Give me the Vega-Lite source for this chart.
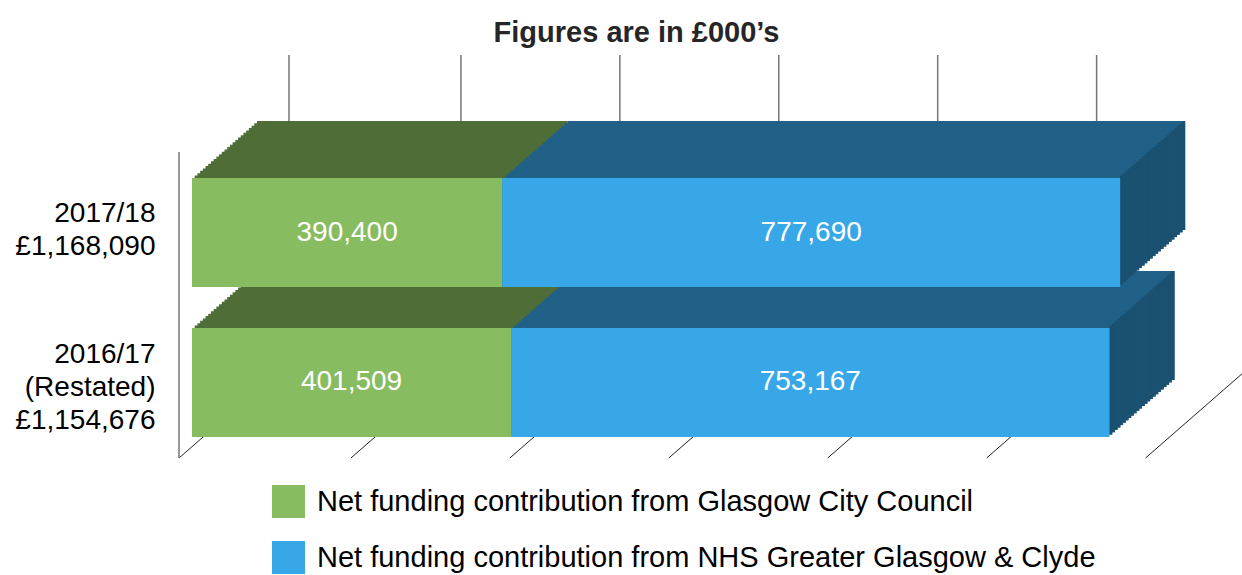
{
  "$schema": "https://vega.github.io/schema/vega-lite/v6.json",
  "width": 1033,
  "height": 382,
  "autosize": {"type": "none"},
  "padding": {"left": 192, "top": 55, "right": 17, "bottom": 138},
  "title": {"text": "Figures are in £000’s", "fontSize": 29, "fontWeight": "bold", "font": "Liberation Sans", "color": "#262626", "anchor": "middle", "frame": "group", "dx": -72, "offset": -17, "baseline": "alphabetic"},
  "config": {
    "font": "Liberation Sans",
    "view": {"stroke": null},
    "axisX": {"disable": true},
    "legend": {"orient": "none", "legendX": 80, "legendY": 430, "title": null, "symbolType": "square", "symbolSize": 1089, "symbolStrokeWidth": 0, "labelFontSize": 29, "labelFont": "Liberation Sans", "labelColor": "#000000", "labelOffset": 12, "rowPadding": 23, "labelLimit": 1000, "padding": 0}
  },
  "layer": [
    {
      "data": {"values": [{"t": 200000}, {"t": 400000}, {"t": 600000}, {"t": 800000}, {"t": 1000000}, {"t": 1200000}]},
      "mark": {"type": "rule", "color": "#767676", "strokeWidth": 1.5, "xOffset": 110},
      "encoding": {"x": {"field": "t", "type": "quantitative", "scale": {"domain": [0, 1300000], "nice": false, "zero": true}, "axis": null}}
    },
    {
      "data": {"values": [{"t": 0}]},
      "mark": {"type": "rule", "color": "#767676", "strokeWidth": 1.5, "xOffset": 97},
      "encoding": {"x": {"field": "t", "type": "quantitative", "axis": null}}
    },
    {
      "data": {"values": [{"t": 200000}, {"t": 400000}, {"t": 600000}, {"t": 800000}, {"t": 1000000}, {"t": 1200000}]},
      "mark": {"type": "rule", "color": "#222222", "strokeWidth": 1, "yOffset": 21, "y2Offset": -75, "x2Offset": 110},
      "encoding": {"x": {"field": "t", "type": "quantitative", "axis": null}, "x2": {"field": "t"}, "y": {"value": "height"}, "y2": {"value": "height"}}
    },
    {
      "data": {"values": [{"t": 0}]},
      "mark": {"type": "rule", "color": "#222222", "strokeWidth": 1, "xOffset": -13, "x2Offset": 97, "yOffset": 21, "y2Offset": -75},
      "encoding": {"x": {"field": "t", "type": "quantitative", "axis": null}, "x2": {"field": "t"}, "y": {"value": "height"}, "y2": {"value": "height"}}
    },
    {
      "data": {"values": [{"t": 0}]},
      "mark": {"type": "rule", "color": "#767676", "strokeWidth": 1.5, "xOffset": -13, "yOffset": 21, "y2Offset": -285},
      "encoding": {"x": {"field": "t", "type": "quantitative", "axis": null}, "y": {"value": "height"}, "y2": {"value": "height"}}
    },
    {
      "data": {"values": [
        {"year": "2017/18|£1,168,090", "segment": "Net funding contribution from Glasgow City Council", "value": 390400},
        {"year": "2017/18|£1,168,090", "segment": "Net funding contribution from NHS Greater Glasgow & Clyde", "value": 777690},
        {"year": "2016/17|(Restated)|£1,154,676", "segment": "Net funding contribution from Glasgow City Council", "value": 401509},
        {"year": "2016/17|(Restated)|£1,154,676", "segment": "Net funding contribution from NHS Greater Glasgow & Clyde", "value": 753167}
      ]},
      "transform": [
        {"stack": "value", "groupby": ["year"], "sort": [{"field": "segment", "order": "ascending"}], "as": ["x0", "x1"]},
        {"calculate": "(datum.x0 + datum.x1) / 2", "as": "mid"}
      ],
      "encoding": {
        "y": {"field": "year", "type": "nominal", "title": null,
          "scale": {"domain": ["2017/18|£1,168,090", "2016/17|(Restated)|£1,154,676"], "paddingInner": 0.2733, "paddingOuter": 0.41, "align": 1},
          "axis": {"labelExpr": "split(datum.label, '|')", "labelFontSize": 28, "labelFont": "Liberation Sans", "labelColor": "#000000", "labelLineHeight": 33, "labelPadding": 37, "domain": false, "ticks": false, "tickSize": 0, "labelLimit": 400, "grid": false,
            "labelOffset": {"condition": {"test": "datum.value == '2016/17|(Restated)|£1,154,676'", "value": -27}, "value": -19}}}
      },
      "layer": [
        {
          "encoding": {
            "x": {"field": "x0", "type": "quantitative", "axis": null},
            "x2": {"field": "x1"},
            "fill": {"field": "segment", "type": "nominal", "scale": {"range": ["#4F6E37", "#216087"]}, "legend": null}
          },
          "layer": [
            {"mark": {"type": "bar", "xOffset": 65, "x2Offset": 65, "yOffset": -57, "y2Offset": -57}},
            {"mark": {"type": "bar", "xOffset": 62.29, "x2Offset": 62.29, "yOffset": -54.63, "y2Offset": -54.63}},
            {"mark": {"type": "bar", "xOffset": 59.58, "x2Offset": 59.58, "yOffset": -52.25, "y2Offset": -52.25}},
            {"mark": {"type": "bar", "xOffset": 56.88, "x2Offset": 56.88, "yOffset": -49.88, "y2Offset": -49.88}},
            {"mark": {"type": "bar", "xOffset": 54.17, "x2Offset": 54.17, "yOffset": -47.5, "y2Offset": -47.5}},
            {"mark": {"type": "bar", "xOffset": 51.46, "x2Offset": 51.46, "yOffset": -45.13, "y2Offset": -45.13}},
            {"mark": {"type": "bar", "xOffset": 48.75, "x2Offset": 48.75, "yOffset": -42.75, "y2Offset": -42.75}},
            {"mark": {"type": "bar", "xOffset": 46.04, "x2Offset": 46.04, "yOffset": -40.38, "y2Offset": -40.38}},
            {"mark": {"type": "bar", "xOffset": 43.33, "x2Offset": 43.33, "yOffset": -38, "y2Offset": -38}},
            {"mark": {"type": "bar", "xOffset": 40.63, "x2Offset": 40.63, "yOffset": -35.63, "y2Offset": -35.63}},
            {"mark": {"type": "bar", "xOffset": 37.92, "x2Offset": 37.92, "yOffset": -33.25, "y2Offset": -33.25}},
            {"mark": {"type": "bar", "xOffset": 35.21, "x2Offset": 35.21, "yOffset": -30.88, "y2Offset": -30.88}},
            {"mark": {"type": "bar", "xOffset": 32.5, "x2Offset": 32.5, "yOffset": -28.5, "y2Offset": -28.5}},
            {"mark": {"type": "bar", "xOffset": 29.79, "x2Offset": 29.79, "yOffset": -26.13, "y2Offset": -26.13}},
            {"mark": {"type": "bar", "xOffset": 27.08, "x2Offset": 27.08, "yOffset": -23.75, "y2Offset": -23.75}},
            {"mark": {"type": "bar", "xOffset": 24.38, "x2Offset": 24.38, "yOffset": -21.38, "y2Offset": -21.38}},
            {"mark": {"type": "bar", "xOffset": 21.67, "x2Offset": 21.67, "yOffset": -19, "y2Offset": -19}},
            {"mark": {"type": "bar", "xOffset": 18.96, "x2Offset": 18.96, "yOffset": -16.63, "y2Offset": -16.63}},
            {"mark": {"type": "bar", "xOffset": 16.25, "x2Offset": 16.25, "yOffset": -14.25, "y2Offset": -14.25}},
            {"mark": {"type": "bar", "xOffset": 13.54, "x2Offset": 13.54, "yOffset": -11.88, "y2Offset": -11.88}},
            {"mark": {"type": "bar", "xOffset": 10.83, "x2Offset": 10.83, "yOffset": -9.5, "y2Offset": -9.5}},
            {"mark": {"type": "bar", "xOffset": 8.13, "x2Offset": 8.13, "yOffset": -7.13, "y2Offset": -7.13}},
            {"mark": {"type": "bar", "xOffset": 5.42, "x2Offset": 5.42, "yOffset": -4.75, "y2Offset": -4.75}},
            {"mark": {"type": "bar", "xOffset": 2.71, "x2Offset": 2.71, "yOffset": -2.38, "y2Offset": -2.38}}
          ]
        },
        {
          "transform": [{"filter": {"field": "segment", "equal": "Net funding contribution from NHS Greater Glasgow & Clyde"}}],
          "encoding": {
            "x": {"field": "x1", "type": "quantitative", "axis": null},
            "x2": {"field": "x1"},
            "fill": {"value": "#1A5070"}
          },
          "layer": [
            {"mark": {"type": "bar", "xOffset": 62.09, "x2Offset": 65, "yOffset": -57, "y2Offset": -57}},
            {"mark": {"type": "bar", "xOffset": 59.38, "x2Offset": 62.29, "yOffset": -54.63, "y2Offset": -54.63}},
            {"mark": {"type": "bar", "xOffset": 56.68, "x2Offset": 59.58, "yOffset": -52.25, "y2Offset": -52.25}},
            {"mark": {"type": "bar", "xOffset": 53.97, "x2Offset": 56.88, "yOffset": -49.88, "y2Offset": -49.88}},
            {"mark": {"type": "bar", "xOffset": 51.26, "x2Offset": 54.17, "yOffset": -47.5, "y2Offset": -47.5}},
            {"mark": {"type": "bar", "xOffset": 48.55, "x2Offset": 51.46, "yOffset": -45.13, "y2Offset": -45.13}},
            {"mark": {"type": "bar", "xOffset": 45.84, "x2Offset": 48.75, "yOffset": -42.75, "y2Offset": -42.75}},
            {"mark": {"type": "bar", "xOffset": 43.13, "x2Offset": 46.04, "yOffset": -40.38, "y2Offset": -40.38}},
            {"mark": {"type": "bar", "xOffset": 40.43, "x2Offset": 43.33, "yOffset": -38, "y2Offset": -38}},
            {"mark": {"type": "bar", "xOffset": 37.72, "x2Offset": 40.63, "yOffset": -35.63, "y2Offset": -35.63}},
            {"mark": {"type": "bar", "xOffset": 35.01, "x2Offset": 37.92, "yOffset": -33.25, "y2Offset": -33.25}},
            {"mark": {"type": "bar", "xOffset": 32.3, "x2Offset": 35.21, "yOffset": -30.88, "y2Offset": -30.88}},
            {"mark": {"type": "bar", "xOffset": 29.59, "x2Offset": 32.5, "yOffset": -28.5, "y2Offset": -28.5}},
            {"mark": {"type": "bar", "xOffset": 26.88, "x2Offset": 29.79, "yOffset": -26.13, "y2Offset": -26.13}},
            {"mark": {"type": "bar", "xOffset": 24.18, "x2Offset": 27.08, "yOffset": -23.75, "y2Offset": -23.75}},
            {"mark": {"type": "bar", "xOffset": 21.47, "x2Offset": 24.38, "yOffset": -21.38, "y2Offset": -21.38}},
            {"mark": {"type": "bar", "xOffset": 18.76, "x2Offset": 21.67, "yOffset": -19, "y2Offset": -19}},
            {"mark": {"type": "bar", "xOffset": 16.05, "x2Offset": 18.96, "yOffset": -16.63, "y2Offset": -16.63}},
            {"mark": {"type": "bar", "xOffset": 13.34, "x2Offset": 16.25, "yOffset": -14.25, "y2Offset": -14.25}},
            {"mark": {"type": "bar", "xOffset": 10.63, "x2Offset": 13.54, "yOffset": -11.88, "y2Offset": -11.88}},
            {"mark": {"type": "bar", "xOffset": 7.93, "x2Offset": 10.83, "yOffset": -9.5, "y2Offset": -9.5}},
            {"mark": {"type": "bar", "xOffset": 5.22, "x2Offset": 8.13, "yOffset": -7.13, "y2Offset": -7.13}},
            {"mark": {"type": "bar", "xOffset": 2.51, "x2Offset": 5.42, "yOffset": -4.75, "y2Offset": -4.75}},
            {"mark": {"type": "bar", "xOffset": -0.2, "x2Offset": 2.71, "yOffset": -2.38, "y2Offset": -2.38}}
          ]
        },
        {
          "mark": {"type": "bar"},
          "encoding": {
            "x": {"field": "x0", "type": "quantitative", "axis": null},
            "x2": {"field": "x1"},
            "color": {"field": "segment", "type": "nominal", "title": null,
              "scale": {"domain": ["Net funding contribution from Glasgow City Council", "Net funding contribution from NHS Greater Glasgow & Clyde"], "range": ["#88BC60", "#37A7E8"]}}
          }
        },
        {
          "mark": {"type": "text", "color": "#FFFFFF", "fontSize": 28, "font": "Liberation Sans", "align": "center", "baseline": "middle"},
          "encoding": {
            "x": {"field": "mid", "type": "quantitative", "axis": null},
            "text": {"field": "value", "type": "quantitative", "format": ","}
          }
        }
      ]
    }
  ]
}
